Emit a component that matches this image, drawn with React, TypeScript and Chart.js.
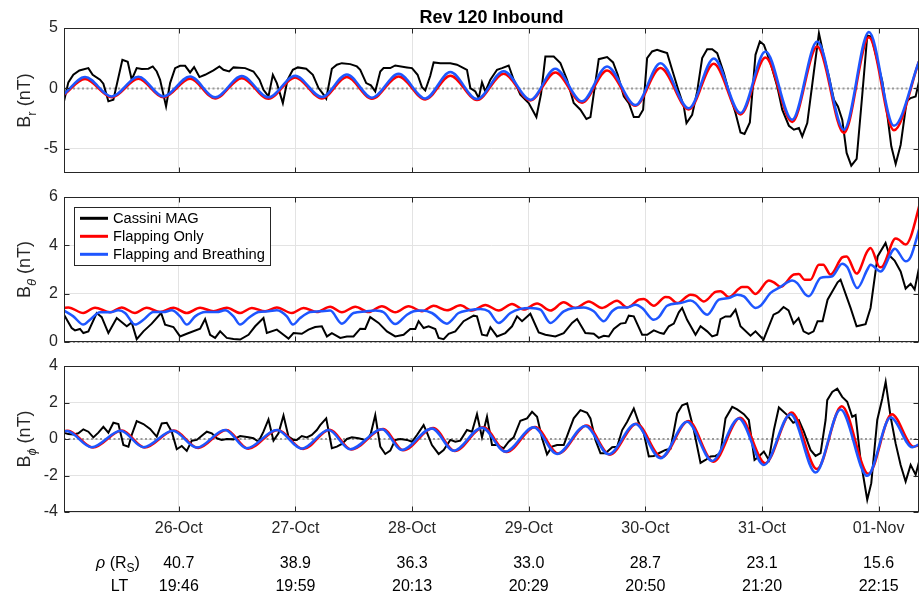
import React, { useEffect, useRef } from 'react';
import { Chart, registerables } from 'chart.js';

Chart.register(...registerables);

// ---------- x axis: hours since 25-Oct 00:00 ----------
const X_MIN = 0.39;
const X_MAX = 176.3;
const dayTickHours = [24, 48, 72, 96, 120, 144, 168];
const dayLabels = ['26-Oct', '27-Oct', '28-Oct', '29-Oct', '30-Oct', '31-Oct', '01-Nov'];
const rhoLabels = ['40.7', '38.9', '36.3', '33.0', '28.7', '23.1', '15.6'];
const ltLabels = ['19:46', '19:59', '20:13', '20:29', '20:50', '21:20', '22:15'];

// ---------- B_r ----------
const brMagHours = [0.39,1.28,2.31,3.55,5.40,6.29,7.80,8.49,9.52,10.55,12.40,13.50,14.32,15.35,16.38,17.76,18.65,19.47,20.16,21.39,22.22,23.25,24.28,25.31,26.33,27.16,28.26,29.42,31.14,32.37,33.20,34.37,35.26,37.66,39.37,40.61,41.43,42.46,43.36,44.18,45.42,46.38,47.47,48.50,50.22,51.59,52.76,53.79,54.34,55.50,56.53,57.56,59.28,60.65,61.34,62.57,63.53,64.43,65.46,66.14,67.52,68.54,70.95,71.98,73.14,74.04,74.72,75.75,76.44,77.81,79.87,81.24,82.61,83.30,83.99,85.02,85.72,86.39,87.08,88.11,89.48,90.51,91.88,92.91,94.28,96.00,97.58,98.54,99.43,101.15,102.52,103.89,105.26,106.64,107.87,108.70,110.41,112.13,113.36,114.32,115.56,116.59,117.62,118.65,119.54,120.36,121.39,122.42,123.45,124.48,125.51,126.88,127.91,128.46,129.63,130.66,131.69,132.72,133.75,134.78,136.15,137.18,138.55,139.58,140.40,141.50,142.66,143.56,144.39,145.76,147.13,148.16,149.53,150.56,151.59,152.28,153.31,154.68,155.71,156.74,157.77,158.80,159.62,160.51,161.41,162.37,163.47,164.63,165.66,166.49,167.58,168.75,169.78,170.60,171.50,172.53,173.76,174.58,175.61,176.51];
const brMag = [-1.07,0.50,1.13,1.49,1.68,1.13,0.72,0.39,-1.07,-0.94,2.37,2.20,0.72,1.68,1.60,1.63,1.82,1.40,0.72,-1.49,0.44,1.68,1.87,1.87,1.32,1.76,0.94,1.13,1.49,1.82,1.54,1.40,1.74,1.68,1.40,0.72,-0.11,-0.66,1.13,0.44,-1.21,0.72,1.54,1.74,1.63,1.13,0.03,-0.52,-0.85,1.63,1.96,2.09,2.01,1.82,1.54,0.44,0.25,-0.25,1.40,1.68,1.68,1.90,1.74,1.68,1.13,0.11,-0.17,1.05,2.15,2.09,2.09,1.96,1.68,1.54,0.03,-0.25,-0.80,0.50,-0.25,0.72,1.54,1.68,1.90,0.72,-0.52,-1.21,-2.37,-0.44,2.64,2.64,2.09,0.72,-1.21,-1.76,-2.53,-2.37,2.42,2.59,2.15,1.13,-0.66,-1.21,-2.37,-2.37,-1.76,2.51,3.06,3.20,3.06,2.92,1.54,-0.25,-1.49,-2.87,-2.18,-0.25,2.51,3.25,3.25,2.92,1.27,-0.25,-2.04,-3.64,-3.77,-2.81,2.78,3.88,3.61,2.09,0.17,-1.76,-3.09,-3.42,-3.28,-3.97,-2.87,1.40,4.57,2.64,0.99,-0.94,-1.49,-2.59,-5.34,-6.39,-5.84,-0.52,4.38,4.30,2.51,0.58,-2.18,-4.79,-6.25,-4.66,-1.07,-0.80,-0.66,0.94];
const brModelHours = [0.39,4.72,10.21,15.70,20.84,26.33,31.48,36.97,42.46,47.95,53.44,58.59,63.74,69.23,74.72,79.87,85.36,90.85,96.34,101.48,106.97,112.12,117.96,123.10,128.94,134.08,139.57,144.72,150.21,155.36,160.85,166.00,171.14,176.29];
const brFlap = [-0.52,0.77,-0.74,0.80,-0.74,0.80,-0.83,0.85,-0.85,0.91,-0.83,0.94,-0.85,0.99,-0.91,1.05,-0.96,1.21,-0.99,1.32,-1.18,1.49,-1.43,1.68,-1.74,2.04,-2.15,2.56,-2.78,3.47,-3.69,4.24,-3.47,2.23];
const brFlapBreath = [-0.47,0.94,-0.66,0.96,-0.66,0.99,-0.74,1.02,-0.74,1.05,-0.72,1.16,-0.77,1.21,-0.83,1.35,-0.88,1.43,-0.94,1.63,-1.07,1.82,-1.38,2.09,-1.65,2.48,-2.04,3.06,-2.59,3.88,-3.42,4.66,-3.09,2.23];

// ---------- B_theta ----------
const btMagHours = [0.39,1.97,2.65,3.68,4.37,5.40,7.12,8.15,9.52,11.24,13.30,14.32,15.35,16.73,18.44,20.37,21.19,22.90,24.27,25.65,28.39,29.42,30.45,31.48,32.51,33.88,35.26,36.63,38.35,39.72,41.43,42.12,44.18,45.55,46.58,47.61,49.32,50.69,52.06,53.44,54.48,55.50,57.22,58.59,59.96,61.34,62.36,63.39,65.11,66.83,68.54,70.26,71.63,72.67,73.35,74.38,75.41,76.78,77.47,78.50,79.53,80.90,82.61,84.67,85.36,86.39,87.42,88.11,89.48,91.19,92.57,93.60,94.63,96.34,98.06,99.43,101.48,103.21,104.92,105.95,107.66,109.38,110.41,111.45,112.47,113.50,114.88,115.91,116.59,117.62,119.34,120.36,121.74,123.10,123.79,124.83,125.86,126.88,127.57,128.59,130.32,131.35,132.72,133.75,134.78,135.46,136.49,137.52,138.55,139.57,141.63,142.66,144.31,146.37,147.40,148.43,149.46,150.49,151.52,152.55,153.58,154.61,155.43,156.46,157.49,159.55,160.16,162.22,163.46,165.31,166.33,167.78,169.42,170.25,171.28,172.52,173.55,174.58,175.40,176.43];
const btMag = [1.13,0.58,0.48,0.54,0.37,0.44,1.20,1.03,0.37,0.99,0.65,0.81,0.12,0.44,0.76,1.20,0.72,0.62,0.23,0.34,0.55,0.95,0.30,0.17,0.44,0.17,0.12,0.10,0.30,0.65,0.99,0.37,0.51,0.30,0.14,0.37,0.34,0.51,0.62,0.65,0.23,0.37,0.17,0.23,0.23,0.55,0.54,1.03,0.79,0.44,0.23,0.30,0.54,0.54,0.86,0.58,0.65,0.54,0.17,0.12,0.34,0.44,0.86,1.09,1.06,0.30,0.26,0.61,0.23,0.37,0.65,1.06,0.86,1.17,0.40,0.30,0.23,0.37,0.79,0.95,0.37,0.34,0.17,0.26,0.23,0.54,0.76,0.79,1.09,1.06,0.30,0.30,0.48,0.37,0.34,0.65,0.76,1.23,1.41,0.92,0.30,0.65,0.44,0.23,0.30,0.95,1.06,1.06,1.34,0.65,0.26,0.44,0.10,1.13,1.23,1.45,1.31,0.76,0.99,0.44,0.34,0.44,0.86,0.86,1.75,2.47,2.58,1.41,0.65,0.74,1.41,3.54,4.10,3.57,3.37,2.92,2.21,2.41,2.17,3.20];
const btFlapHours = [0.39,1.28,4.37,6.77,9.86,12.26,15.00,17.41,20.16,22.90,25.65,28.39,31.14,33.88,36.63,39.03,41.78,44.18,47.26,49.67,52.41,55.16,57.56,60.31,63.05,65.80,68.54,71.29,74.04,76.44,79.18,81.93,84.33,87.08,89.83,92.57,94.97,97.72,100.46,103.21,105.61,108.36,111.10,114.17,116.26,118.65,119.68,121.74,124.15,124.83,126.55,129.29,130.32,132.04,134.43,135.46,137.18,139.92,140.95,142.66,145.41,146.44,147.81,150.55,151.58,152.75,153.98,155.70,156.59,158.10,160.50,161.40,163.46,165.65,166.33,168.26,168.94,171.49,172.18,173.55,174.58,176.50];
const btFlap = [1.41,1.43,1.20,1.42,1.23,1.43,1.20,1.42,1.24,1.42,1.20,1.42,1.27,1.42,1.20,1.41,1.27,1.43,1.20,1.41,1.24,1.46,1.23,1.46,1.24,1.48,1.23,1.48,1.27,1.50,1.31,1.52,1.30,1.53,1.30,1.57,1.34,1.59,1.30,1.64,1.41,1.68,1.41,1.71,1.43,1.75,1.78,1.50,1.86,1.85,1.61,1.96,1.92,1.68,2.07,2.10,1.86,2.28,2.28,1.99,2.54,2.47,2.28,2.79,2.81,2.58,2.58,3.20,3.20,2.79,3.50,3.54,2.83,3.75,3.89,3.09,3.16,4.28,4.23,4.03,4.34,5.75];
const btFlapBreathHours = [0.39,2.31,4.37,5.74,7.80,9.86,11.58,12.95,15.00,16.73,18.78,20.84,22.56,24.27,25.65,27.37,29.42,31.83,33.54,35.26,36.63,38.35,40.41,42.46,44.18,46.24,47.47,48.98,51.04,53.10,55.16,57.56,59.96,62.36,64.43,66.14,68.54,70.95,72.34,74.04,76.09,79.18,81.58,83.64,86.04,87.76,89.83,92.23,94.28,96.34,98.40,100.46,103.21,105.26,107.32,109.38,111.45,113.16,114.53,116.26,117.96,119.34,121.74,122.77,124.48,127.22,129.29,130.32,132.04,132.72,135.12,137.18,138.89,140.27,142.66,143.69,145.76,147.81,150.21,151.24,152.96,153.64,156.04,157.42,158.45,160.50,161.53,163.60,165.65,166.33,168.39,171.35,173.55,174.58,176.50];
const btFlapBreath = [1.30,1.06,0.72,0.92,1.23,1.23,1.31,1.20,0.72,0.92,1.24,1.24,1.31,1.06,0.72,1.06,1.24,1.24,1.31,1.06,0.72,0.99,1.24,1.27,1.31,1.06,0.72,0.99,1.24,1.27,1.30,0.76,1.20,1.26,1.30,1.23,0.74,1.13,1.27,1.30,1.20,0.76,1.20,1.31,1.37,1.27,0.79,1.20,1.37,1.41,1.34,0.79,1.27,1.41,1.43,1.27,0.86,1.27,1.43,1.43,1.54,1.41,0.92,1.03,1.50,1.61,1.72,1.61,1.20,1.13,1.75,1.82,1.96,1.89,1.41,1.50,2.03,2.28,2.55,2.44,1.96,1.89,2.65,2.69,2.72,3.24,3.10,2.23,2.99,3.20,2.92,3.86,3.34,3.52,4.79];

// ---------- B_phi ----------
const bpMagHours = [0.39,1.28,2.31,3.34,4.37,5.40,6.43,7.46,8.49,9.52,10.55,11.58,12.61,13.64,14.32,15.35,16.73,18.10,19.47,20.50,21.53,22.56,23.59,24.62,25.65,26.68,27.71,28.74,29.77,30.80,31.83,32.85,33.88,35.26,36.63,38.35,39.37,40.40,41.43,42.46,43.49,44.52,45.55,46.58,47.61,48.29,49.32,50.35,51.38,52.41,53.10,54.34,55.50,56.53,57.56,58.59,59.62,60.99,62.36,63.05,63.53,64.43,65.46,66.49,67.52,68.54,69.57,70.95,71.98,73.01,74.38,75.07,76.09,77.47,78.50,79.87,80.90,81.93,83.30,84.33,85.36,86.39,87.42,88.45,89.48,90.85,91.88,92.91,94.28,95.66,96.69,97.72,98.75,99.77,100.80,101.83,103.21,104.23,105.26,106.64,108.01,108.70,109.73,110.77,111.80,113.17,114.20,115.23,116.26,117.62,118.65,119.68,120.71,121.74,122.77,124.15,125.18,126.55,127.57,128.60,129.97,131.35,132.38,133.41,134.43,135.46,136.49,137.87,138.89,140.27,141.29,142.46,143.35,144.38,145.41,146.44,147.47,149.19,150.42,151.58,152.61,153.98,155.02,156.05,157.08,157.42,158.45,159.48,160.50,161.53,162.56,163.25,164.28,165.65,166.48,167.71,168.75,169.44,170.46,171.49,172.52,173.55,174.58,175.61,176.50];
const bpMag = [0.35,0.27,0.25,0.31,0.53,0.40,0.09,0.35,0.67,0.35,0.89,0.82,-0.33,-0.42,0.22,0.98,0.82,0.55,0.13,0.85,0.89,0.40,-0.56,-0.38,-0.65,-0.09,-0.05,0.18,0.40,0.31,0.04,-0.05,0.00,-0.02,0.16,0.09,0.04,-0.15,0.40,1.07,-0.09,0.31,1.29,0.13,-0.05,-0.05,0.16,0.09,0.22,0.49,0.76,1.13,-0.51,-0.42,-0.27,0.00,0.09,0.04,-0.05,0.04,0.31,1.31,-0.42,-0.82,-0.64,-0.05,0.00,-0.05,-0.15,0.22,0.76,0.35,-0.33,-0.82,-0.60,-0.05,-0.15,-0.09,0.49,0.40,1.36,0.09,1.22,-0.33,-0.33,-0.51,-0.15,0.09,1.00,1.13,1.49,1.22,0.04,-0.84,-0.42,-0.33,-0.33,0.40,1.13,1.58,1.44,1.13,-0.05,-0.78,-0.78,-0.45,-0.42,0.49,0.95,1.67,0.89,0.31,-0.96,-0.93,-0.78,-0.60,-0.53,1.40,1.85,1.95,0.49,-1.31,-1.15,-0.96,-0.93,-0.78,1.13,1.76,1.62,1.36,1.04,-1.15,-0.96,-0.69,-1.15,0.49,1.73,1.31,0.89,1.04,0.40,-0.60,-0.93,-0.78,1.04,2.13,2.58,2.76,2.31,2.04,1.22,1.31,-1.15,-3.33,-2.42,1.04,2.22,3.13,1.22,-0.24,-1.42,-2.33,-1.42,-1.96,-1.05];
const bpFlapHours = [0.39,1.20,6.35,12.30,17.00,23.00,28.00,33.80,38.25,44.40,49.60,55.10,59.50,66.05,70.20,76.35,80.80,86.65,91.45,97.30,102.10,107.90,112.70,118.20,123.35,128.85,134.00,139.50,144.65,150.10,155.30,160.40,165.90,170.70,175.20,176.29];
const bpFlap = [0.43,0.45,-0.47,0.46,-0.47,0.46,-0.49,0.50,-0.53,0.50,-0.55,0.51,-0.58,0.55,-0.62,0.60,-0.66,0.64,-0.71,0.66,-0.80,0.74,-0.86,0.84,-1.00,0.98,-1.24,1.16,-1.33,1.45,-1.65,1.80,-1.91,1.35,-0.42,-0.35];
const bpFlapBreathHours = [0.39,0.94,6.09,12.06,16.73,22.77,27.71,33.54,38.00,44.18,49.32,54.82,59.28,65.80,69.91,76.09,80.55,86.39,91.19,97.02,101.83,107.66,112.47,117.96,123.10,128.59,133.74,139.23,144.38,149.87,155.02,160.16,165.65,170.46,174.92,176.29];
const bpFlapBreath = [0.40,0.44,-0.45,0.45,-0.45,0.45,-0.47,0.49,-0.51,0.49,-0.53,0.49,-0.56,0.53,-0.60,0.58,-0.64,0.62,-0.69,0.64,-0.82,0.71,-0.84,0.82,-1.05,0.95,-1.20,1.13,-1.42,1.36,-1.84,1.62,-2.02,1.18,-0.45,-0.29];

// ---------- styling ----------
const FONT = '"Liberation Sans", Arial, Helvetica, sans-serif';
const AXIS_COLOR = '#262626';
const GRID_COLOR = '#e3e3e3';
const ZERO_COLOR = '#9a9a9a';
const MAG_COLOR = '#000000';
const FLAP_COLOR = '#ff0000';
const FB_COLOR = '#1e56ff';
const W = 922;
const H = 596;
const PLOT_LEFT = 64;
const PLOT_RIGHT = 919;
const TICK_LEN = 5;

const toPoints = (hours: number[], values: number[]) => hours.map((h, i) => ({ x: h, y: values[i] }));

function drawRotatedLabel(ctx: CanvasRenderingContext2D, bx: number, cy: number, sub: string, italic: boolean) {
  ctx.save();
  ctx.translate(bx, cy);
  ctx.rotate(-Math.PI / 2);
  ctx.fillStyle = AXIS_COLOR;
  ctx.textAlign = 'left';
  ctx.textBaseline = 'alphabetic';
  const big = `18px ${FONT}`;
  const small = `${italic ? 'italic ' : ''}13px ${FONT}`;
  ctx.font = big;
  const wB = ctx.measureText('B').width;
  const wRest = ctx.measureText(' (nT)').width;
  ctx.font = small;
  const wS = ctx.measureText(sub).width;
  let px = -(wB + wS + wRest) / 2;
  ctx.font = big;
  ctx.fillText('B', px, 0);
  px += wB;
  ctx.font = small;
  ctx.fillText(sub, px, 6);
  px += wS;
  ctx.font = big;
  ctx.fillText(' (nT)', px, 0);
  ctx.restore();
}

function drawTitle(chart: any) {
  const { ctx, chartArea: a } = chart;
  ctx.save();
  ctx.font = `bold 18px ${FONT}`;
  ctx.fillStyle = '#000';
  ctx.textAlign = 'center';
  ctx.textBaseline = 'alphabetic';
  ctx.fillText('Rev 120 Inbound', (a.left + a.right) / 2, 22.5);
  ctx.restore();
}

function drawLegend(chart: any) {
  const ctx = chart.ctx;
  ctx.save();
  ctx.fillStyle = '#fff';
  ctx.fillRect(74, 207, 196, 58);
  ctx.strokeStyle = AXIS_COLOR;
  ctx.lineWidth = 1;
  ctx.strokeRect(74.5, 207.5, 196, 58);
  chart.data.datasets.forEach((ds: any, i: number) => {
    const yy = 218.3 + i * 18;
    ctx.strokeStyle = ds.borderColor;
    ctx.lineWidth = 3;
    ctx.beginPath();
    ctx.moveTo(80, yy);
    ctx.lineTo(108, yy);
    ctx.stroke();
    ctx.fillStyle = '#000';
    ctx.font = `14.7px ${FONT}`;
    ctx.textAlign = 'left';
    ctx.textBaseline = 'middle';
    ctx.fillText(ds.label, 113, yy + 0.5);
  });
  ctx.restore();
}

function drawBottomText(chart: any) {
  const { ctx, scales } = chart;
  const x = scales.x;
  ctx.save();
  ctx.textAlign = 'center';
  ctx.textBaseline = 'alphabetic';
  ctx.font = `16px ${FONT}`;
  ctx.fillStyle = AXIS_COLOR;
  dayTickHours.forEach((h, i) => ctx.fillText(dayLabels[i], x.getPixelForValue(h), 533.3));
  ctx.fillStyle = '#000';
  dayTickHours.forEach((h, i) => {
    const px = x.getPixelForValue(h);
    ctx.fillText(rhoLabels[i], px, 567.7);
    ctx.fillText(ltLabels[i], px, 590.7);
  });
  // row headers: "ρ (R_S)" and "LT"
  const parts = [
    { t: 'ρ', f: `italic 16px ${FONT}`, dy: 0 },
    { t: ' (R', f: `16px ${FONT}`, dy: 0 },
    { t: 'S', f: `12px ${FONT}`, dy: 4 },
    { t: ')', f: `16px ${FONT}`, dy: 0 },
  ];
  ctx.textAlign = 'left';
  let total = 0;
  parts.forEach((p) => { ctx.font = p.f; total += ctx.measureText(p.t).width; });
  let px = 118 - total / 2;
  parts.forEach((p) => {
    ctx.font = p.f;
    ctx.fillText(p.t, px, 567.7 + p.dy);
    px += ctx.measureText(p.t).width;
  });
  ctx.textAlign = 'center';
  ctx.font = `16px ${FONT}`;
  ctx.fillText('LT', 119.5, 590.7);
  ctx.restore();
}

function panelPlugin(spec: any) {
  return {
    id: 'panelFrame_' + spec.key,
    beforeDatasetsDraw(chart: any) {
      const { ctx, chartArea: a, scales } = chart;
      const y0 = scales.y.getPixelForValue(0);
      ctx.save();
      ctx.beginPath();
      ctx.rect(a.left, a.top - 2, a.right - a.left, a.bottom - a.top + 4);
      ctx.clip();
      ctx.strokeStyle = ZERO_COLOR;
      ctx.lineWidth = 2;
      ctx.setLineDash([2, 2.5]);
      ctx.beginPath();
      ctx.moveTo(a.left, y0);
      ctx.lineTo(a.right, y0);
      ctx.stroke();
      ctx.restore();
    },
    afterDraw(chart: any) {
      const { ctx, chartArea: a, scales } = chart;
      const L = Math.round(a.left) + 0.5;
      const R = Math.round(a.right) - 0.5;
      const T = Math.round(a.top) + 0.5;
      const B = Math.round(a.bottom) - 0.5;
      ctx.save();
      ctx.strokeStyle = AXIS_COLOR;
      ctx.lineWidth = 1;
      ctx.setLineDash([]);
      ctx.strokeRect(L, T, R - L, B - T);
      ctx.beginPath();
      spec.yTicks.forEach((v: number) => {
        const py = Math.round(scales.y.getPixelForValue(v)) + 0.5;
        ctx.moveTo(L, py); ctx.lineTo(L + TICK_LEN, py);
        ctx.moveTo(R, py); ctx.lineTo(R - TICK_LEN, py);
      });
      dayTickHours.forEach((h) => {
        const px = Math.round(scales.x.getPixelForValue(h)) + 0.5;
        ctx.moveTo(px, T); ctx.lineTo(px, T + TICK_LEN);
        ctx.moveTo(px, B); ctx.lineTo(px, B - TICK_LEN);
      });
      ctx.stroke();
      ctx.restore();
      drawRotatedLabel(ctx, 29.5, (a.top + a.bottom) / 2, spec.sub, spec.subItalic);
      if (spec.extra) spec.extra(chart);
    },
  };
}

const panels = [
  {
    key: 'br', top: 28, bottom: 173, yMin: -7, yMax: 5, yTicks: [-5, 0, 5], sub: 'r', subItalic: false,
    mag: toPoints(brMagHours, brMag), flap: toPoints(brModelHours, brFlap), fb: toPoints(brModelHours, brFlapBreath),
    extra: drawTitle,
  },
  {
    key: 'bt', top: 197, bottom: 342, yMin: 0, yMax: 6, yTicks: [0, 2, 4, 6], sub: 'θ', subItalic: true,
    mag: toPoints(btMagHours, btMag), flap: toPoints(btFlapHours, btFlap), fb: toPoints(btFlapBreathHours, btFlapBreath),
    extra: drawLegend,
  },
  {
    key: 'bp', top: 366, bottom: 512, yMin: -4, yMax: 4, yTicks: [-4, -2, 0, 2, 4], sub: 'ϕ', subItalic: true,
    mag: toPoints(bpMagHours, bpMag), flap: toPoints(bpFlapHours, bpFlap), fb: toPoints(bpFlapBreathHours, bpFlapBreath),
    extra: drawBottomText,
  },
];

function buildConfig(spec: any): any {
  return {
    type: 'line',
    data: {
      datasets: [
        { label: 'Cassini MAG', data: spec.mag, borderColor: MAG_COLOR, borderWidth: 2, pointRadius: 0, tension: 0, order: 3 },
        { label: 'Flapping Only', data: spec.flap, borderColor: FLAP_COLOR, borderWidth: 2.5, pointRadius: 0, cubicInterpolationMode: 'monotone', order: 2 },
        { label: 'Flapping and Breathing', data: spec.fb, borderColor: FB_COLOR, borderWidth: 2.5, pointRadius: 0, cubicInterpolationMode: 'monotone', order: 1 },
      ],
    },
    options: {
      responsive: false,
      animation: false,
      devicePixelRatio: 1,
      events: [],
      layout: { padding: { left: 0, right: W - PLOT_RIGHT, top: spec.top, bottom: H - spec.bottom } },
      plugins: { legend: { display: false }, tooltip: { enabled: false }, title: { display: false } },
      scales: {
        x: {
          type: 'linear', min: X_MIN, max: X_MAX,
          afterBuildTicks: (s: any) => { s.ticks = dayTickHours.map((v) => ({ value: v })); },
          afterFit: (s: any) => { s.height = 0; },
          ticks: { display: false },
          grid: { color: GRID_COLOR, drawTicks: false, lineWidth: 1 },
          border: { display: false },
        },
        y: {
          type: 'linear', min: spec.yMin, max: spec.yMax,
          afterBuildTicks: (s: any) => { s.ticks = spec.yTicks.map((v: number) => ({ value: v })); },
          afterFit: (s: any) => { s.width = PLOT_LEFT; },
          ticks: { color: AXIS_COLOR, font: { family: FONT, size: 16 }, padding: 6, callback: (v: number) => String(v) },
          grid: { color: GRID_COLOR, drawTicks: false, lineWidth: 1 },
          border: { display: false },
        },
      },
    },
    plugins: [panelPlugin(spec)],
  };
}

export default function App() {
  const refs = [useRef<HTMLCanvasElement>(null), useRef<HTMLCanvasElement>(null), useRef<HTMLCanvasElement>(null)];
  useEffect(() => {
    const charts = panels.map((p, i) => new Chart(refs[i].current as HTMLCanvasElement, buildConfig(p)));
    return () => charts.forEach((c) => c.destroy());
  }, []);
  return (
    <div style={{ position: 'fixed', left: 0, top: 0, width: W, height: H, background: '#fff' }}>
      {refs.map((r, i) => (
        <canvas key={i} ref={r} width={W} height={H} style={{ position: 'absolute', left: 0, top: 0 }} />
      ))}
    </div>
  );
}
